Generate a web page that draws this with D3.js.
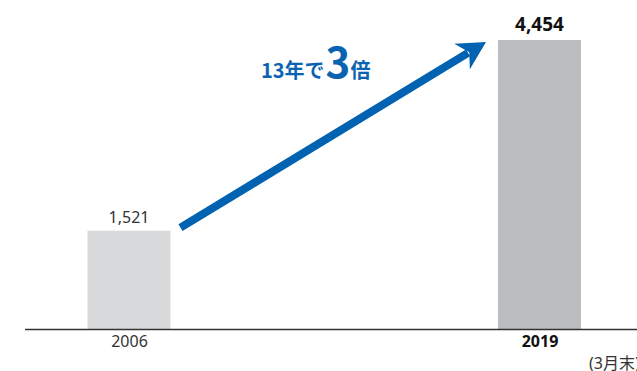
<!DOCTYPE html>
<html>
<head>
<meta charset="utf-8">
<script src="https://cdn.jsdelivr.net/npm/d3@7"></script>
<style>
  body { margin: 0; background: #fff; }
  svg { display: block; font-family: "Noto Sans", "Noto Sans CJK JP", sans-serif; }
</style>
</head>
<body>
<div class="chart"></div>
<script>
const years = ["2006", "2019"];
const values = [1521, 4454];
const valueLabels = ["1,521", "4,454"];
const barColors = ["#d9dadb", "#bcbdbf"];

const w = 637;
const h = 371;
const baseline = 329.5;
const barWidth = 83;

const svg = d3.select(".chart").append("svg").attr("width", w).attr("height", h);

const xScale = d3.scalePoint().domain(years).range([129, 539.5]);
const yScale = d3.scaleLinear().domain([0, 4454]).range([baseline, 40]);

svg.selectAll("rect.bar")
  .data(values)
  .enter()
  .append("rect")
  .attr("class", "bar")
  .attr("x", (d, i) => xScale(years[i]) - barWidth / 2)
  .attr("y", (d) => yScale(d))
  .attr("width", barWidth)
  .attr("height", (d) => baseline - yScale(d))
  .attr("fill", (d, i) => barColors[i]);

// value labels
svg.selectAll("text.val")
  .data(values)
  .enter()
  .append("text")
  .attr("class", "val")
  .attr("x", (d, i) => xScale(years[i]))
  .attr("y", (d, i) => yScale(d) - (i === 1 ? 9 : 8))
  .attr("text-anchor", "middle")
  .attr("fill", (d, i) => (i === 1 ? "#111" : "#333"))
  .style("font-size", (d, i) => (i === 1 ? "19px" : "16px"))
  .style("font-weight", (d, i) => (i === 1 ? "bold" : "normal"))
  .text((d, i) => valueLabels[i]);

// x axis
const xAxis = d3.axisBottom(xScale).tickSize(0).tickPadding(6);
const gx = svg.append("g")
  .attr("transform", "translate(0," + baseline + ")")
  .call(xAxis);
gx.select(".domain").remove();
gx.selectAll("text")
  .attr("fill", (d) => (d === "2019" ? "#111" : "#333"))
  .style("font-size", "16px")
  .style("font-weight", (d) => (d === "2019" ? "bold" : "normal"))
  .style("font-family", "'Noto Sans', sans-serif");

svg.append("line")
  .attr("x1", 25).attr("x2", w)
  .attr("y1", baseline).attr("y2", baseline)
  .attr("stroke", "#333")
  .attr("stroke-width", 1.5);

svg.append("text")
  .attr("x", 589)
  .attr("y", 369)
  .attr("fill", "#333")
  .style("font-size", "16px")
  .text("(3月末)");

// growth arrow
const x0 = xScale("2006") + barWidth / 2 + 10;
const y0 = yScale(values[0]) - 3;
const x1 = xScale("2019") - barWidth / 2 - 12;
const y1 = yScale(values[1]) + 2;
const ang = Math.atan2(y1 - y0, x1 - x0);
const headLen = 28;
const bx = x1 - headLen * 0.75 * Math.cos(ang);
const by = y1 - headLen * 0.75 * Math.sin(ang);

svg.append("line")
  .attr("x1", x0).attr("y1", y0)
  .attr("x2", bx).attr("y2", by)
  .attr("stroke", "#0062b1")
  .attr("stroke-width", 8);

const rot = (dx, dy) => [
  x1 + dx * Math.cos(ang) - dy * Math.sin(ang),
  y1 + dx * Math.sin(ang) + dy * Math.cos(ang)
];
const head = [rot(0, 0), rot(-headLen, -15), rot(-headLen * 0.7, 0), rot(-headLen, 15)];
svg.append("polygon")
  .attr("points", head.map((p) => p.join(",")).join(" "))
  .attr("fill", "#0062b1");

// annotation
const note = svg.append("text")
  .attr("x", 261)
  .attr("y", 78)
  .attr("fill", "#0a63b0")
  .style("font-weight", "bold")
  .style("font-family", "'Noto Sans CJK JP', sans-serif");
note.append("tspan").style("font-size", "20px").text("13年で");
note.append("tspan").style("font-size", "42px").attr("dx", 1).text("3");
note.append("tspan").style("font-size", "20px").text("倍");
</script>
</body>
</html>
